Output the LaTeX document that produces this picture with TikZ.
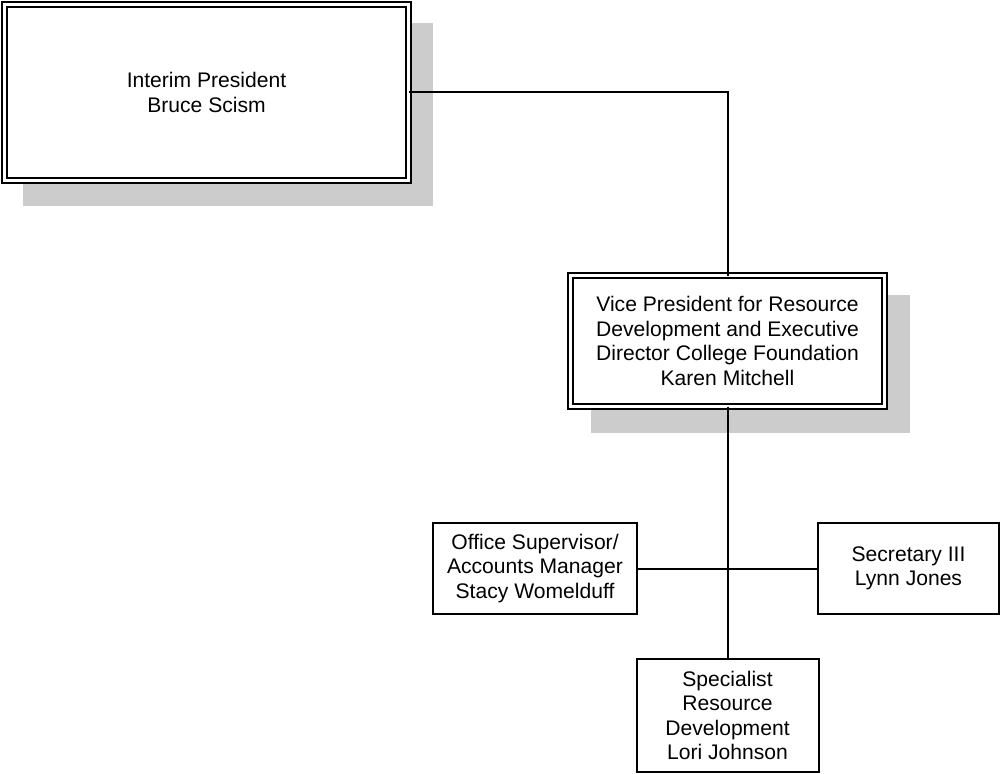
\documentclass[tikz,border=0pt]{standalone}
\usepackage{fontspec}
\setmainfont{Liberation Sans}
\definecolor{shadowgray}{RGB}{204,204,204}
\begin{document}
\begin{tikzpicture}[x=1pt,y=-1pt,
  box/.style={draw, line width=2pt, fill=white, align=center, inner sep=2pt,
    font=\fontsize{21.1}{24.5}\selectfont, outer sep=0pt},
  dbox/.style={box, double, double distance=3pt},
  shadowbox/.style={fill=shadowgray, draw=none},
  conn/.style={line width=2pt}]
\useasboundingbox (0,0) rectangle (1000,773);
% shadows
\fill[shadowbox] (23,23) rectangle (433,206);
\fill[shadowbox] (591,295) rectangle (910,433);
% nodes
\node[dbox, minimum width=404pt, minimum height=176pt] (pres) at (206.5,92.5)
  {Interim President\\Bruce Scism};
\node[dbox, minimum width=314pt, minimum height=131pt] (vp) at (727.5,341)
  {Vice President for Resource\\Development and Executive\\Director College Foundation\\Karen Mitchell};
\node[box, minimum width=204pt, minimum height=91pt] (office) at (535,568.5)
  {Office Supervisor/\\Accounts Manager\\Stacy Womelduff};
\node[box, minimum width=181pt, minimum height=91pt] (sec) at (908.5,568.5)
  {Secretary III\\Lynn Jones};
\node[box, minimum width=182pt, minimum height=113pt] (spec) at (727.5,715.5)
  {Specialist\\Resource\\Development\\Lori Johnson};
% connectors
\draw[conn] (pres.east) -| (vp.north);
\draw[conn] (vp.south) -- (vp.south |- spec.north);
\draw[conn] (office.east) -- (sec.west);
\end{tikzpicture}
\end{document}
